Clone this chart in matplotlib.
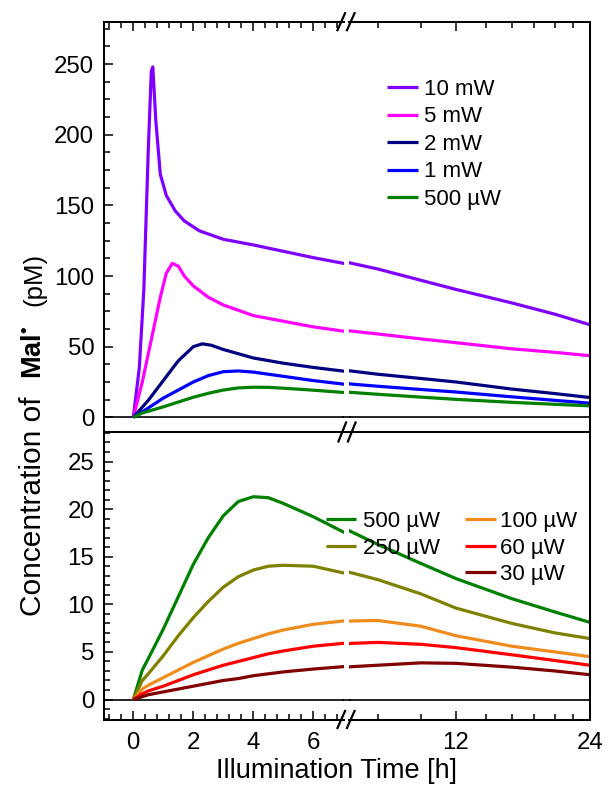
import matplotlib
matplotlib.use('Agg')
import matplotlib.pyplot as plt
from matplotlib.lines import Line2D
from matplotlib.ticker import FixedLocator, NullFormatter, FixedFormatter
import numpy as np

plt.rcParams['font.family'] = ['Liberation Sans', 'DejaVu Sans']
plt.rcParams['mathtext.fontset'] = 'custom'
plt.rcParams['mathtext.rm'] = 'Liberation Sans'
plt.rcParams['mathtext.bf'] = 'Liberation Sans:bold'

# ---------------- data ----------------
# top panel (pM)
t_10mW = [0, 0.2, 0.35, 0.5, 0.6, 0.65, 0.75, 0.9, 1.1, 1.4, 1.7, 2.2, 3, 4, 5, 6, 7, 8, 10, 12, 16, 20, 24]
c_10mW = [0, 35, 90, 190, 245, 248, 210, 172, 157, 146, 139, 132, 126, 122, 117.5, 113, 109, 105, 97, 90.5, 81, 73, 65.5]

t_5mW = [0, 0.3, 0.6, 0.9, 1.1, 1.3, 1.5, 1.7, 2, 2.5, 3, 4, 5, 6, 7, 8, 10, 12, 16, 20, 24]
c_5mW = [0, 25, 55, 85, 102, 109, 107, 100, 93, 85, 79.5, 72, 68, 64, 61, 59, 55.5, 52.8, 48.5, 46, 43.6]

t_2mW = [0, 0.5, 1, 1.5, 2, 2.3, 2.6, 3, 4, 5, 6, 7, 8, 10, 12, 16, 20, 24]
c_2mW = [0, 12, 26, 40, 50, 52, 51, 48, 42, 38.3, 35.3, 32.7, 30.5, 27.5, 25, 20, 16.8, 14]

t_1mW = [0, 0.5, 1, 1.5, 2, 2.5, 3, 3.5, 4, 5, 6, 7, 8, 10, 12, 16, 20, 24]
c_1mW = [0, 6.6, 13.6, 19.3, 25, 29.5, 32.3, 32.8, 32, 29, 26, 23.5, 22, 19.7, 17.9, 14.5, 12, 10]

# low-power series (pM), common time grid
t_low = [0, 0.3, 0.5, 1, 1.5, 2, 2.5, 3, 3.5, 4, 4.5, 5, 6, 7, 8, 10, 12, 16, 20, 24]
c_500uW = [0, 3.1, 4.3, 7.4, 10.8, 14.2, 17.0, 19.3, 20.8, 21.3, 21.2, 20.6, 19.2, 17.6, 16.3, 14.3, 12.7, 10.6, 9.2, 8.1]
c_250uW = [0, 2.0, 2.7, 4.6, 6.7, 8.6, 10.3, 11.8, 12.9, 13.6, 14.0, 14.1, 14.0, 13.3, 12.6, 11.1, 9.6, 8.0, 7.0, 6.4]
c_100uW = [0, 1.1, 1.5, 2.3, 3.1, 3.9, 4.6, 5.3, 5.9, 6.4, 6.9, 7.3, 7.9, 8.25, 8.3, 7.7, 6.7, 5.6, 5.0, 4.5]
c_60uW = [0, 0.6, 0.9, 1.4, 2.0, 2.6, 3.1, 3.6, 4.0, 4.4, 4.8, 5.1, 5.6, 5.9, 6.0, 5.8, 5.45, 4.7, 4.1, 3.6]
c_30uW = [0, 0.3, 0.5, 0.8, 1.1, 1.4, 1.7, 2.0, 2.2, 2.5, 2.7, 2.9, 3.2, 3.45, 3.6, 3.85, 3.8, 3.4, 3.0, 2.6]

top_series = [
    ("10 mW", t_10mW, c_10mW, "#8000FF"),
    ("5 mW", t_5mW, c_5mW, "#FF00FF"),
    ("2 mW", t_2mW, c_2mW, "#000080"),
    ("1 mW", t_1mW, c_1mW, "#0000FF"),
    ("500 \u00b5W", t_low, c_500uW, "#008000"),
]
bottom_series = [
    ("500 \u00b5W", t_low, c_500uW, "#008000"),
    ("250 \u00b5W", t_low, c_250uW, "#808000"),
    ("100 \u00b5W", t_low, c_100uW, "#F08C1E"),
    ("60 \u00b5W", t_low, c_60uW, "#FF0000"),
    ("30 \u00b5W", t_low, c_30uW, "#800000"),
]

# ---------------- layout ----------------
W, H = 606, 787
fig = plt.figure(figsize=(W / 100, H / 100), dpi=100)

def fx(px):
    return px / W

def fy(py):
    return 1 - py / H

L0, L1 = 104, 344
R0, R1 = 349, 590
T0, T1 = 21.7, 432
B0, B1 = 432, 719.5

axTL = fig.add_axes([fx(L0), fy(T1), fx(L1) - fx(L0), fy(T0) - fy(T1)])
axTR = fig.add_axes([fx(R0), fy(T1), fx(R1) - fx(R0), fy(T0) - fy(T1)])
axBL = fig.add_axes([fx(L0), fy(B1), fx(L1) - fx(L0), fy(B0) - fy(B1)])
axBR = fig.add_axes([fx(R0), fy(B1), fx(R1) - fx(R0), fy(B0) - fy(B1)])

LW = 2.3
SPW = 1.45
TICKFS = 17.3
LEGFS = 16

for ax in (axTL, axTR):
    for lab, t, c, col in top_series:
        ax.plot(t, c, color=col, lw=LW, label=lab, solid_capstyle='butt')
    ax.set_ylim(-10.4, 280)
    ax.axhline(0, color='k', lw=1.2, zorder=0)
for ax in (axBL, axBR):
    for lab, t, c, col in bottom_series:
        ax.plot(t, c, color=col, lw=LW, label=lab, solid_capstyle='butt')
    ax.set_ylim(-2.1, 28.1)
    ax.axhline(0, color='k', lw=1.2, zorder=0)

for ax in (axTL, axBL):
    ax.set_xlim(-0.977, 7.023)
    ax.xaxis.set_major_locator(FixedLocator([0, 2, 4, 6]))
    ax.xaxis.set_minor_locator(FixedLocator(np.arange(-0.8, 7.0, 0.4)))
    ax.spines['right'].set_visible(False)
for ax in (axTR, axBR):
    ax.set_xscale('log')
    ax.set_xlim(6.90, 24)
    ax.xaxis.set_major_locator(FixedLocator([12, 24]))
    ax.xaxis.set_major_formatter(FixedFormatter(['12', '24']))
    ax.xaxis.set_minor_locator(FixedLocator([8, 10, 14, 16, 18, 20, 22]))
    ax.xaxis.set_minor_formatter(NullFormatter())
    ax.spines['left'].set_visible(False)
    ax.tick_params(axis='y', which='both', left=False, right=False, labelleft=False)

axTL.yaxis.set_major_locator(FixedLocator(np.arange(0, 251, 50)))
axTL.yaxis.set_minor_locator(FixedLocator(np.arange(0, 281, 12.5)))
axBL.yaxis.set_major_locator(FixedLocator(np.arange(0, 26, 5)))
axBL.yaxis.set_minor_locator(FixedLocator(np.arange(-2, 28.5, 1)))

for ax in (axTL, axTR, axBL, axBR):
    for s in ax.spines.values():
        s.set_linewidth(SPW)
    ax.tick_params(which='both', direction='in', width=1.1, labelsize=TICKFS)
    ax.tick_params(which='major', length=6.5, pad=7)
    ax.tick_params(which='minor', length=4)
    ax.tick_params(axis='x', which='major', pad=9)
for ax in (axTL, axBL):
    ax.tick_params(axis='y', which='both', left=True, right=False)

for ax in (axTL, axTR):
    ax.tick_params(axis='x', which='both', top=True, bottom=False, labeltop=False, labelbottom=False)
for ax in (axBL, axBR):
    ax.tick_params(axis='x', which='both', top=False, bottom=True, labelbottom=True)

# zero lines and middle spine across the break
for axl in (axTL, axBL):
    yz = fig.transFigure.inverted().transform(axl.transData.transform((0, 0)))[1]
    fig.add_artist(Line2D([fx(L1) - 0.002, fx(R0) + 0.002], [yz, yz], color='k', lw=1.2,
                          transform=fig.transFigure))
fig.add_artist(Line2D([fx(L1) - 0.002, fx(R0) + 0.002], [fy(T1), fy(T1)], color='k', lw=SPW,
                      transform=fig.transFigure))

# break marks
def brk(xc, yc, hh):
    for dx in (-4.75, 4.75):
        fig.add_artist(Line2D([fx(xc + dx - 3.8), fx(xc + dx + 3.8)], [fy(yc + hh), fy(yc - hh)],
                              color='k', lw=1.6, transform=fig.transFigure))
brk(346, T0, 8.5)
brk(347, T1, 9.5)
brk(346, B1, 8.5)

# legends
leg1 = axTR.legend(*axTL.get_legend_handles_labels(), loc='upper left',
                   bbox_to_anchor=(fx(387), fy(79)), bbox_transform=fig.transFigure,
                   frameon=False, fontsize=LEGFS, handlelength=1.4, handletextpad=0.27,
                   borderpad=0, borderaxespad=0, labelspacing=0.29)
h, l = axBL.get_legend_handles_labels()
leg2 = axBR.legend(h[:2], l[:2], loc='upper left',
                   bbox_to_anchor=(fx(326), fy(511)), bbox_transform=fig.transFigure,
                   frameon=False, fontsize=LEGFS, handlelength=1.35, handletextpad=0.3,
                   borderpad=0, borderaxespad=0, labelspacing=0.25)
axBR.add_artist(leg2)
leg3 = axBR.legend(h[2:], l[2:], loc='upper left',
                   bbox_to_anchor=(fx(465), fy(511)), bbox_transform=fig.transFigure,
                   frameon=False, fontsize=LEGFS, handlelength=1.38, handletextpad=0.18,
                   borderpad=0, borderaxespad=0, labelspacing=0.25)

fig.text(fx(336), fy(771), 'Illumination Time [h]', ha='center', va='center', fontsize=19.5)
# y label in three pieces sharing one baseline
BX = fx(41)
fig.text(BX, fy(506), 'Concentration of', rotation=90, rotation_mode='anchor',
         ha='center', va='baseline', fontsize=21.5)
fig.text(BX, fy(352), r'$\mathbf{Mal^{•}}$', rotation=90, rotation_mode='anchor',
         ha='center', va='baseline', fontsize=19.5)
fig.text(BX, fy(279), '(pM)', rotation=90, rotation_mode='anchor',
         ha='center', va='baseline', fontsize=18.5)

fig.savefig('out.png', dpi=100)
